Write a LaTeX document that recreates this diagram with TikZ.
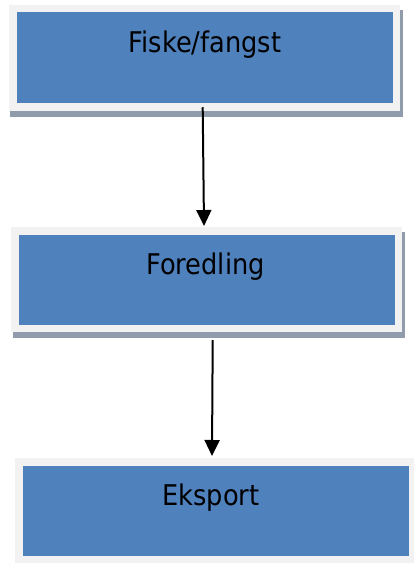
\documentclass[tikz,border=0pt]{standalone}
\usepackage{fontspec}
\setmainfont[FakeStretch=0.9]{DejaVu Sans}
\usetikzlibrary{arrows.meta,calc}
\definecolor{boxblue}{HTML}{4F81BD}
\definecolor{boxframe}{HTML}{F2F2F2}
\definecolor{boxshadow}{HTML}{909CAB}
\tikzset{
  stagebox/.style={rectangle, fill=boxblue, draw=boxframe, line width=7.5pt, outer sep=0pt, inner sep=0pt},
  stagetext/.style={anchor=base, inner sep=0pt, font=\fontsize{28.5pt}{32pt}\selectfont, text=black},
  shadowfill/.style={fill=boxshadow},
  flowarrow/.style={line width=2pt, -{Triangle[width=15pt,length=16pt]}}
}
\begin{document}
\begin{tikzpicture}[x=1pt,y=-1pt]
\useasboundingbox (0,0) rectangle (414,564);
\fill[white] (0,0) rectangle (414,564);
% shadows
\fill[shadowfill] (10,10) rectangle (403,117);
\fill[shadowfill] (12.5,232) rectangle (405,338);
% boxes
\node[stagebox, minimum width=383.5pt, minimum height=98.5pt] (b1) at (204.5,58) {};
\node[stagebox, minimum width=383.5pt, minimum height=97.5pt] (b2) at (206.5,279.5) {};
\node[stagebox, minimum width=393.5pt, minimum height=97.5pt] (b3) at (215.5,510.5) {};
% texts
\node[stagetext] (t1) at (205,52.3) {Fiske/fangst};
\node[stagetext] (t2) at (205.5,274) {Foredling};
\node[stagetext] (t3) at (211,505) {Eksport};
% arrows
\draw[flowarrow] ([xshift=-1.8pt]b1.south) -- ([xshift=-2.5pt,yshift=4.75pt]b2.north);
\draw[flowarrow] ([xshift=6.2pt,yshift=-11.75pt]b2.south) -- ([xshift=-3.5pt,yshift=5.75pt]b3.north);
\end{tikzpicture}
\end{document}
